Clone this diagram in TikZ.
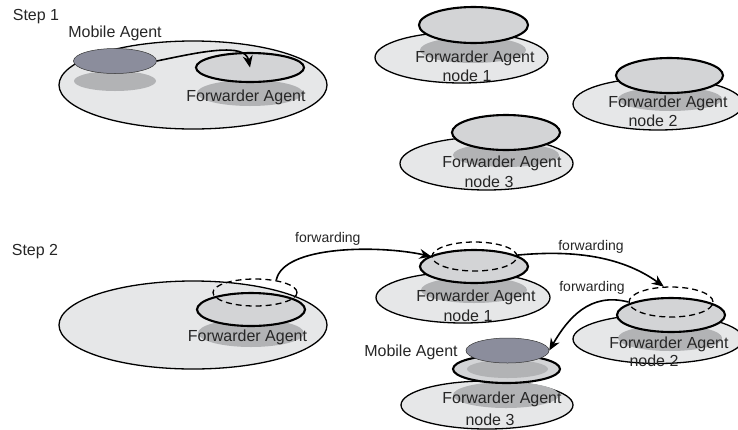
\documentclass[tikz,border=0pt]{standalone}
\usepackage{fontspec}
\setmainfont{Liberation Sans}
\usetikzlibrary{arrows.meta,shapes.geometric}

\definecolor{cPlate}{HTML}{E6E7E8}
\definecolor{cDisc}{HTML}{D3D4D6}
\definecolor{cShade}{HTML}{B2B3B5}
\definecolor{cAgent}{HTML}{8B8D9C}

\tikzset{
  oval/.style={ellipse, inner sep=0pt},
  platebox/.style={oval, draw=black, line width=1.3pt, fill=cPlate},
  discbox/.style={oval, draw=black, line width=2.1pt, fill=cDisc},
  shadebox/.style={oval, fill=cShade},
  agentbox/.style={oval, draw=black!80, line width=0.5pt, fill=cAgent},
  ghostbox/.style={oval, draw=black, line width=1.3pt, dash pattern=on 6pt off 4pt},
  flow/.style={line width=1.6pt, -{Stealth[length=12pt,width=10pt,inset=4pt]}},
  lbl/.style={inner sep=0pt, font=\fontsize{16}{18}\selectfont, text=black!85},
  small/.style={inner sep=0pt, font=\fontsize{14}{16}\selectfont, text=black!85}
}

\begin{document}
\begin{tikzpicture}[x=1pt, y=-1pt]
  \useasboundingbox (0,0) rectangle (738,429);

  % ---- step 1 ----
  \node[lbl] (s1) at (36,17) {Step 1};
  \node[platebox, minimum width=268pt, minimum height=88pt] (p0) at (193,85) {};
  \node[shadebox, minimum width=82pt, minimum height=20pt] (ms0) at (115,81) {};
  \node[agentbox, minimum width=83pt, minimum height=25pt] (ma0) at (115,61) {};
  \node[lbl] (mt0) at (115,33) {Mobile Agent};
  \node[shadebox, minimum width=106pt, minimum height=26pt] (sh0) at (250,93) {};
  \node[discbox, minimum width=108pt, minimum height=29pt] (fa0) at (250,67.5) {};
  \node[lbl] (ft0) at (246,97) {Forwarder Agent};

  \node[platebox, minimum width=173pt, minimum height=51pt] (p1) at (461.5,57.5) {};
  \node[shadebox, minimum width=106pt, minimum height=26pt] (sh1) at (473,50) {};
  \node[discbox, minimum width=109pt, minimum height=36pt] (fa1) at (473.5,25) {};
  \node[lbl] (ft1) at (475,58) {Forwarder Agent};
  \node[lbl] (nt1) at (467,76) {node 1};

  \node[platebox, minimum width=170pt, minimum height=52pt] (p2) at (658,104) {};
  \node[shadebox, minimum width=104pt, minimum height=24pt] (sh2) at (670,99) {};
  \node[discbox, minimum width=107pt, minimum height=35pt] (fa2) at (669.5,75.5) {};
  \node[lbl] (ft2) at (668,103) {Forwarder Agent};
  \node[lbl] (nt2) at (653,121) {node 2};

  \node[platebox, minimum width=173pt, minimum height=53pt] (p3) at (486.5,163.5) {};
  \node[shadebox, minimum width=106pt, minimum height=24pt] (sh3) at (506,155) {};
  \node[discbox, minimum width=108pt, minimum height=35pt] (fa3) at (506,132.5) {};
  \node[lbl] (ft3) at (502,163) {Forwarder Agent};
  \node[lbl] (nt3) at (489,182) {node 3};

  \draw[flow] (ma0.east) .. controls (200,52) and (245,42) .. (fa0.center);

  % ---- step 2 ----
  \node[lbl] (s2) at (35,252) {Step 2};
  \node[platebox, minimum width=268pt, minimum height=88pt] (q0) at (193,325) {};
  \node[shadebox, minimum width=106pt, minimum height=28pt] (gs0) at (251,333) {};
  \node[discbox, minimum width=108pt, minimum height=33pt] (ga0) at (251,309.5) {};
  \node[ghostbox, minimum width=84pt, minimum height=27pt] (gd0) at (255,292.5) {};
  \node[lbl] (gt0) at (247.5,337) {Forwarder Agent};

  \node[platebox, minimum width=174pt, minimum height=51pt] (q1) at (463,297.5) {};
  \node[shadebox, minimum width=106pt, minimum height=26pt] (gs1) at (474,290) {};
  \node[discbox, minimum width=108pt, minimum height=33pt] (ga1) at (474,266.5) {};
  \node[ghostbox, minimum width=85pt, minimum height=29pt] (gd1) at (474.5,256.5) {};
  \node[lbl] (gt1) at (476,297) {Forwarder Agent};
  \node[lbl] (gn1) at (468,316) {node 1};

  \node[platebox, minimum width=170pt, minimum height=49pt] (q2) at (658,339) {};
  \node[shadebox, minimum width=104pt, minimum height=26pt] (gs2) at (670,338) {};
  \node[discbox, minimum width=108pt, minimum height=34pt] (ga2) at (671,315) {};
  \node[ghostbox, minimum width=84pt, minimum height=30pt] (gd2) at (671,302) {};
  \node[lbl] (gt2) at (669,344) {Forwarder Agent};
  \node[lbl] (gn2) at (654,361) {node 2};

  \node[platebox, minimum width=172pt, minimum height=48pt] (q3) at (487,405) {};
  \node[shadebox, minimum width=106pt, minimum height=26pt] (gs3) at (506,395) {};
  \node[discbox, minimum width=107pt, minimum height=28pt] (ga3) at (506.5,369) {};
  \node[shadebox, minimum width=81pt, minimum height=18pt] (ms3) at (507.5,369) {};
  \node[agentbox, minimum width=83pt, minimum height=25pt] (ma3) at (507.5,350.5) {};
  \node[lbl] (mt3) at (411,352) {Mobile Agent};
  \node[lbl] (gt3) at (502,399) {Forwarder Agent};
  \node[lbl] (gn3) at (490,420) {node 3};

  \draw[flow] (gd0.30) .. controls (283,245) and (380,245) .. (gd1.west)
    node[small, pos=0.45, above=6pt] (fl1) {forwarding};
  \draw[flow] (ga1.15) .. controls (570,250) and (620,255) .. (gd2.115);
  \node[small] (fl2) at (591,247) {forwarding};
  \draw[flow] (gd2.west) .. controls (590,292) and (568,318) .. (ma3.east);
  \node[small] (fl3) at (592,288) {forwarding};
\end{tikzpicture}
\end{document}
